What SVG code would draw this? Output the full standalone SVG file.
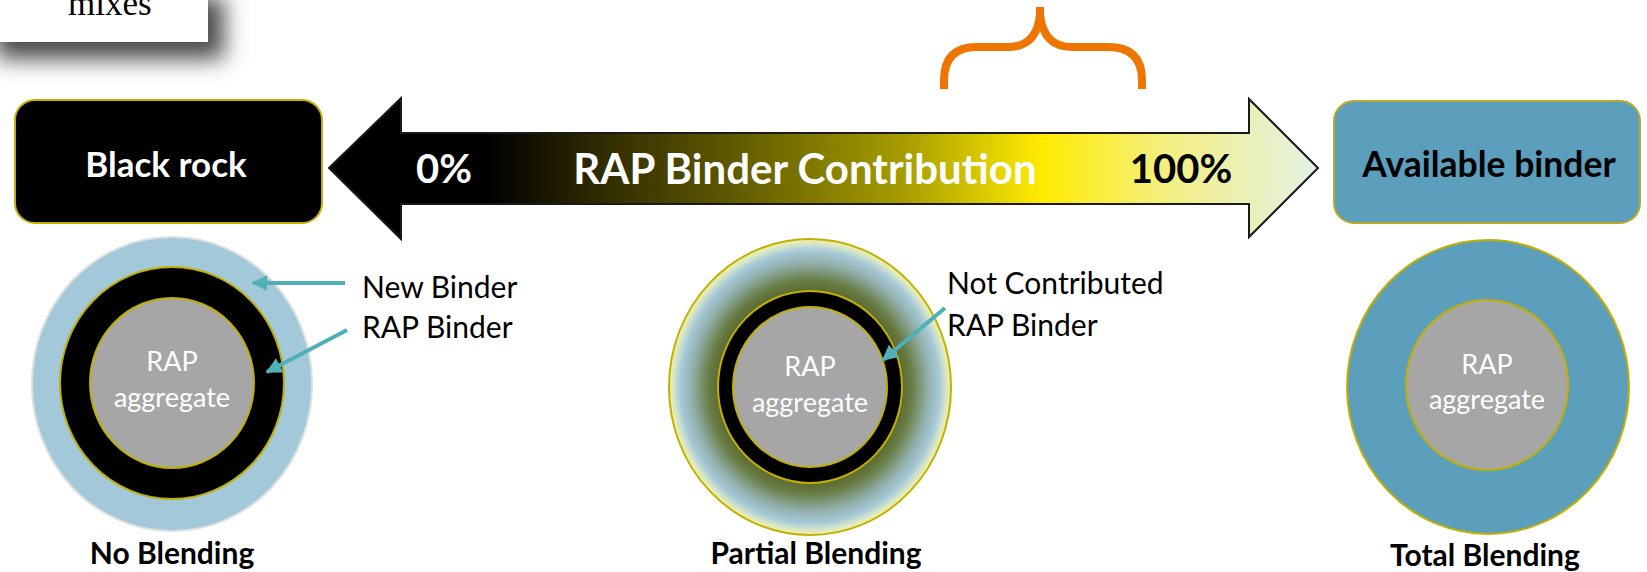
<svg xmlns="http://www.w3.org/2000/svg" width="1647" height="572" viewBox="0 0 1647 572">
<defs>
<style>
.lbl{font-family:Lato,"Open Sans","Liberation Sans",sans-serif;}
.b{font-weight:bold;}
.w{fill:#ffffff;}
.k{fill:#000000;}
.ys{stroke:#c2b000;stroke-width:2;}
.tl{stroke:#4fb0b7;stroke-width:4;fill:none;marker-end:url(#tip);}
</style>
<filter id="shadow" x="-20%" y="-40%" width="160%" height="280%">
<feGaussianBlur in="SourceAlpha" stdDeviation="11"/>
<feOffset dx="16" dy="17" result="o"/>
<feFlood flood-color="#4a4a4a" flood-opacity="1"/>
<feComposite in2="o" operator="in"/>
<feMerge><feMergeNode/><feMergeNode in="SourceGraphic"/></feMerge>
</filter>
<linearGradient id="barGrad" gradientUnits="userSpaceOnUse" x1="329" y1="0" x2="1318" y2="0">
<stop offset="0" stop-color="#000000"/>
<stop offset="0.16" stop-color="#000000"/>
<stop offset="0.26" stop-color="#2a2600"/>
<stop offset="0.4" stop-color="#5c5600"/>
<stop offset="0.58" stop-color="#a69c00"/>
<stop offset="0.72" stop-color="#ffeb00"/>
<stop offset="0.84" stop-color="#f4ef7c"/>
<stop offset="1" stop-color="#e4f1e6"/>
</linearGradient>
<radialGradient id="partial" cx="0.5" cy="0.5" r="0.5">
<stop offset="0.62" stop-color="#56622a"/>
<stop offset="0.72" stop-color="#687c44"/>
<stop offset="0.84" stop-color="#92b0ac"/>
<stop offset="0.92" stop-color="#a6c9d8"/>
<stop offset="0.96" stop-color="#cfe2cc"/>
<stop offset="1" stop-color="#f5f3a6"/>
</radialGradient>
<marker id="tip" viewBox="0 0 10 10" refX="9" refY="5" markerWidth="16" markerHeight="16" markerUnits="userSpaceOnUse" orient="auto">
<path d="M0,0 L10,5 L0,10 z" fill="#4fb0b7"/>
</marker>
</defs>
<rect width="1647" height="572" fill="#ffffff"/>

<g id="mixes-box">
<rect x="-20" y="-20" width="228" height="62" fill="#ffffff" filter="url(#shadow)"/>
<text x="68" y="15" font-family="'Liberation Serif',serif" font-size="35" fill="#000">mixes</text>
</g>

<g id="black-rock">
<rect x="15" y="100" width="307" height="123" rx="20" fill="#000" class="ys"/>
<text x="166" y="177" text-anchor="middle" font-size="35" class="lbl b w">Black rock</text>
</g>

<g id="contribution-arrow">
<polygon points="329,168 401,98 401,133 1249,133 1249,99 1318,168 1249,237 1249,204 401,204 401,239" fill="url(#barGrad)" stroke="#1a1a1a" stroke-width="2" stroke-linejoin="miter"/>
<text x="444" y="183" text-anchor="middle" font-size="40" class="lbl b w">0%</text>
<text x="805" y="184" text-anchor="middle" font-size="42" class="lbl b w">RAP Binder Contribution</text>
<text x="1181" y="183" text-anchor="middle" font-size="40" class="lbl b k">100%</text>
</g>

<g id="brace">
<path d="M944,89 L944,80 Q944,47 977,47 L1008,47 Q1037,47 1040,14 L1040,7 M1040,14 Q1043,47 1072,47 L1108,47 Q1142,47 1142,80 L1142,89" fill="none" stroke="#ee7600" stroke-width="8"/>
</g>

<g id="available-binder">
<rect x="1334" y="101" width="306" height="122" rx="20" fill="#5b9fbc" stroke="#b8aa28" stroke-width="2"/>
<text x="1489" y="177" text-anchor="middle" font-size="35.5" class="lbl b k">Available binder</text>
</g>

<g id="circle-no">
<ellipse cx="172" cy="384" rx="140" ry="147" fill="#a2c8d9" stroke="#d9dede" stroke-width="2"/>
<ellipse cx="172" cy="383" rx="112" ry="116" fill="#000" class="ys"/>
<ellipse cx="172" cy="383" rx="82" ry="85" fill="#a6a6a6" class="ys"/>
<text x="172" y="371" text-anchor="middle" font-size="27" class="lbl w">RAP</text>
<text x="172" y="407" text-anchor="middle" font-size="27" class="lbl w">aggregate</text>
<text x="172" y="564" text-anchor="middle" font-size="30" class="lbl b k">No Blending</text>
</g>

<g id="circle-partial">
<ellipse cx="810" cy="387" rx="141" ry="148" fill="url(#partial)" stroke="#c2b000" stroke-width="2"/>
<ellipse cx="810" cy="387" rx="92" ry="96" fill="#000" class="ys"/>
<ellipse cx="810" cy="387" rx="77" ry="80" fill="#a6a6a6" class="ys"/>
<text x="810" y="376" text-anchor="middle" font-size="27" class="lbl w">RAP</text>
<text x="810" y="412" text-anchor="middle" font-size="27" class="lbl w">aggregate</text>
<text x="816" y="564" text-anchor="middle" font-size="30" class="lbl b k">Partial Blending</text>
</g>

<g id="circle-total">
<ellipse cx="1488" cy="387" rx="141" ry="147" fill="#5b9fbc" class="ys"/>
<ellipse cx="1487" cy="385" rx="81" ry="85" fill="#a6a6a6" class="ys"/>
<text x="1487" y="374" text-anchor="middle" font-size="27" class="lbl w">RAP</text>
<text x="1487" y="409" text-anchor="middle" font-size="27" class="lbl w">aggregate</text>
<text x="1485" y="566" text-anchor="middle" font-size="30" class="lbl b k">Total Blending</text>
</g>

<g id="callouts">
<text x="362" y="298" font-size="30" class="lbl k">New Binder</text>
<text x="362" y="338" font-size="30" class="lbl k">RAP Binder</text>
<text x="947" y="294" font-size="30" class="lbl k">Not Contributed</text>
<text x="947" y="336" font-size="30" class="lbl k">RAP Binder</text>
</g>

<g id="connectors">
<line x1="345" y1="283" x2="253" y2="283" class="tl"/>
<line x1="347" y1="330" x2="267" y2="372" class="tl"/>
<line x1="945" y1="308" x2="883" y2="360" class="tl"/>
</g>
</svg>
